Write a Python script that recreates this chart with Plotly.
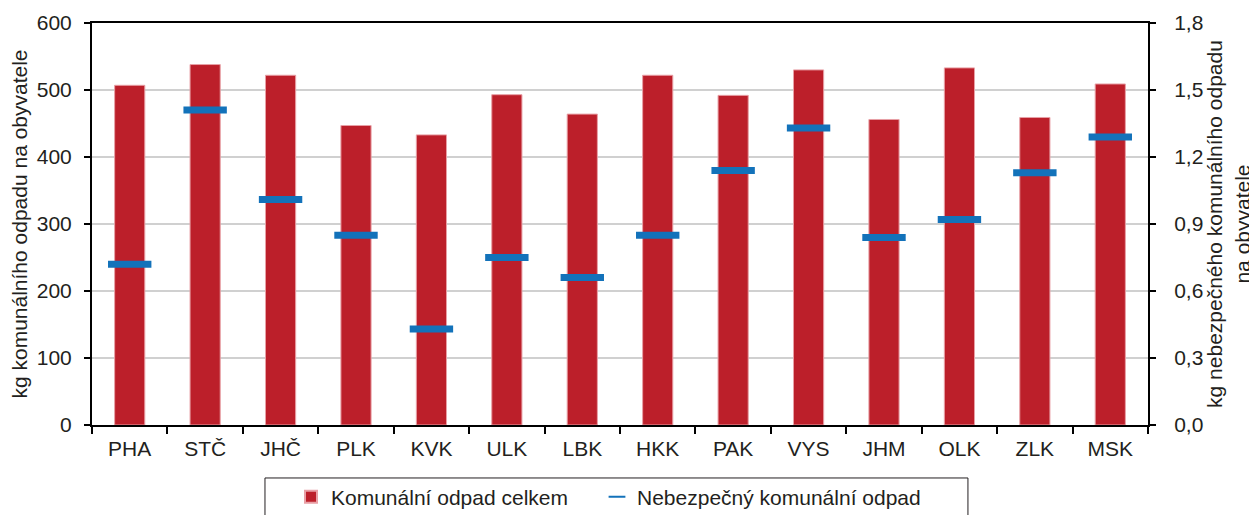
import plotly.graph_objects as go

regions = ["PHA", "STČ", "JHČ", "PLK", "KVK", "ULK", "LBK", "HKK", "PAK", "VYS", "JHM", "OLK", "ZLK", "MSK"]
total_waste = [507, 538, 522, 447, 433, 493, 464, 522, 492, 530, 456, 533, 459, 509]
hazardous_waste = [0.72, 1.41, 1.01, 0.85, 0.43, 0.75, 0.66, 0.85, 1.14, 1.33, 0.84, 0.92, 1.13, 1.29]

left_ticks = [0, 100, 200, 300, 400, 500, 600]
right_ticks = [0.0, 0.3, 0.6, 0.9, 1.2, 1.5, 1.8]

RED = "#BC1F2A"
BLUE = "#1372BA"
FONT = "Liberation Sans, Arial, sans-serif"
FS = 21

# page body has an 8px margin; figure sized to fill the rest of the window
W, H = 1249, 507

fig = go.Figure()
fig.add_trace(go.Bar(
    x=regions, y=total_waste, name="Komunální odpad celkem",
    marker=dict(color=RED, line=dict(color="#E8A0A6", width=1)),
    width=0.4, yaxis="y", legend="legend",
))
fig.add_trace(go.Scatter(
    x=regions, y=hazardous_waste, name="Nebezpečný komunální odpad",
    mode="markers", yaxis="y2", legend="legend2",
    marker=dict(symbol="line-ew", size=31, color=BLUE, line=dict(color=BLUE, width=7)),
))

# legend frame
fig.add_shape(type="rect", xref="paper", yref="paper",
              x0=0.1638, x1=0.8295, y0=-0.24, y1=-0.1318,
              line=dict(color="#231F20", width=1), fillcolor="rgba(0,0,0,0)", layer="above")

legend_common = dict(
    orientation="h", xanchor="left", yanchor="middle", xref="container", yref="container",
    borderwidth=0, bgcolor="rgba(0,0,0,0)", font=dict(size=FS), itemsizing="constant",
)

fig.update_layout(
    width=W, height=H,
    margin=dict(l=84, r=109, t=15, b=90),
    paper_bgcolor="white", plot_bgcolor="white",
    separators=", ",
    font=dict(family=FONT, size=FS, color="#231F20"),
    showlegend=True,
    legend=dict(x=283 / W, y=0.0355, **legend_common),
    legend2=dict(x=589 / W, y=0.0355, **legend_common),
    xaxis=dict(
        type="category", range=[-0.5, 13.5], showline=True, linecolor="black", linewidth=2,
        mirror=True, ticks="outside", tickson="boundaries", ticklen=7,
        tickcolor="black", tickwidth=2, showgrid=False, automargin=False,
        ticklabelstandoff=4, tickfont=dict(size=FS),
    ),
    yaxis=dict(
        range=[0, 600], tickvals=left_ticks, showline=True, linecolor="black",
        linewidth=2, ticks="outside", ticklen=6, tickcolor="black", tickwidth=2,
        ticklabelstandoff=8,
        showgrid=True, gridcolor="#D0D0D0", gridwidth=2, zeroline=False, automargin=False,
        title=dict(text="kg komunálního odpadu na obyvatele", font=dict(size=FS), standoff=3),
    ),
    yaxis2=dict(
        range=[0, 1.8], tickvals=right_ticks, tickformat=".1f", overlaying="y",
        side="right", showline=True, linecolor="black", linewidth=2,
        ticks="outside", ticklen=6, tickcolor="black", tickwidth=2,
        ticklabelstandoff=14,
        showgrid=False, zeroline=False, automargin=False,
        title=dict(text="kg nebezpečného komunálního odpadu<br>na obyvatele", font=dict(size=FS), standoff=2),
    ),
)

fig.write_html("out.html")
